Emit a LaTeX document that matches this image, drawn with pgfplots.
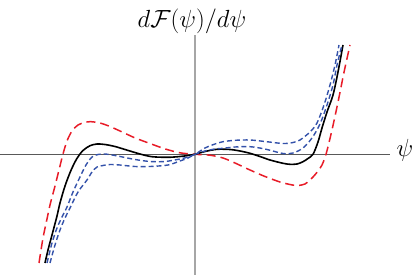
\documentclass[border=0pt]{standalone}
\usepackage{pgfplots}
\pgfplotsset{compat=1.18}
\definecolor{cred}{RGB}{232,28,40}
\definecolor{cblue}{RGB}{52,82,170}
\begin{document}
\begin{tikzpicture}
\begin{axis}[at={(0,0)}, anchor=south west, x=1bp, y=1bp,
  xmin=-195, xmax=195, ymin=-120.7, ymax=119.3,
  axis x line=middle, axis y line=middle,
  axis line style={-},
  x axis line style={-, draw=black!65, line width=0.9bp},
  y axis line style={-, draw=black!35, line width=1.3bp},
  xtick=\empty, ytick=\empty, clip=false]
% red long dashed
\addplot[cred, line width=1.5bp, dash pattern=on 9bp off 5bp, smooth] coordinates {
(-156,-108.7) (-152,-83.7) (-148,-64.7) (-145,-50.7) (-140,-31.7) (-136,-15.7)
(-132,0.3) (-128,13.3) (-123,23.3) (-117,29.3) (-110,32) (-104,32.6) (-95,31.3)
(-85,27.8) (-75,23.3) (-60,16.4) (-45,10.8) (-30,5.4) (-15,1.5) (0,0)
(15,-0.9) (28,-3.7) (40,-8.7) (55,-15.7) (70,-22.2) (85,-27.7) (95,-30.2)
(102,-31.2) (110,-29.7) (118,-22.7) (123,-16.7) (127,-10.7) (131,0)
(136,20) (140,38) (144,57) (149,82) (155,109.3)};
% black solid
\addplot[black, line width=1.6bp, smooth] coordinates {
(-150,-108.7) (-147,-95.7) (-143,-80.7) (-138,-61.7) (-135,-48.7) (-130,-31.7)
(-124,-16) (-118,-4) (-112,3.8) (-105,8.6) (-98,10.3) (-90,9.8) (-80,7.8)
(-70,4.8) (-55,0.3) (-43,-2.4) (-27,-3.0) (-15,-2.2) (-7,-1.2) (0,0)
(10,2.8) (22,5.0) (35,4.8) (45,3.3) (55,1.0) (65,-2.2) (75,-5.7) (88,-9.0)
(95,-10.0) (102,-9.7) (108,-7.4) (113,-4.2) (118,0) (123,12.3) (127,26.3)
(132,42.3) (138,59.3) (143,82.3) (148,109.3)};
% blue upper
\addplot[cblue, line width=1.4bp, dash pattern=on 5bp off 3bp, smooth] coordinates {
(-148,-108.7) (-143,-88.7) (-138,-73.7) (-133,-62.7) (-128,-52.7) (-122,-37.7)
(-115,-22.7) (-109,-10.7) (-103,-2.7) (-97,-0.2) (-90,0.3) (-80,-1.2) (-70,-3.2)
(-60,-5.2) (-45,-7.2) (-30,-7.2) (-15,-4.7) (-7,-2.7) (0,0)
(10,6.3) (20,10.3) (28,12.6) (40,14) (55,14.3) (70,12.8) (88,10.8) (98,11.8)
(105,14.3) (115,22.3) (122,31.3) (129,49.3) (135,69.3) (140,89.3) (144,109.3)};
% blue lower
\addplot[cblue, line width=1.4bp, dash pattern=on 5bp off 3bp, smooth] coordinates {
(-145,-108.7) (-140,-90.7) (-135,-75.7) (-130,-63.7) (-125,-53.7) (-117,-37.7)
(-108,-25.7) (-103,-17.7) (-98,-12.7) (-92,-11.2) (-85,-10.2) (-75,-10.7)
(-60,-12.2) (-45,-12.2) (-27,-10.7) (-15,-6.7) (-7,-3.7) (0,0)
(10,3.3) (20,5.3) (28,6) (40,7.3) (55,7.6) (70,5.3) (88,0.8) (98,1.3)
(108,6.3) (117,16.3) (125,30.3) (132,49.3) (138,69.3) (142,89.3) (147,109.3)};
\end{axis}
\node[inner sep=0pt] at (405bp,125bp) {\fontsize{26}{30}\selectfont$\psi$};
\node[inner sep=0pt] at (192bp,254bp) {\fontsize{26}{30}\selectfont$d\mathcal{F}(\psi)/d\psi$};
\pgfresetboundingbox
\path[use as bounding box] (0,0) rectangle (415bp,275bp);
\end{tikzpicture}
\end{document}
